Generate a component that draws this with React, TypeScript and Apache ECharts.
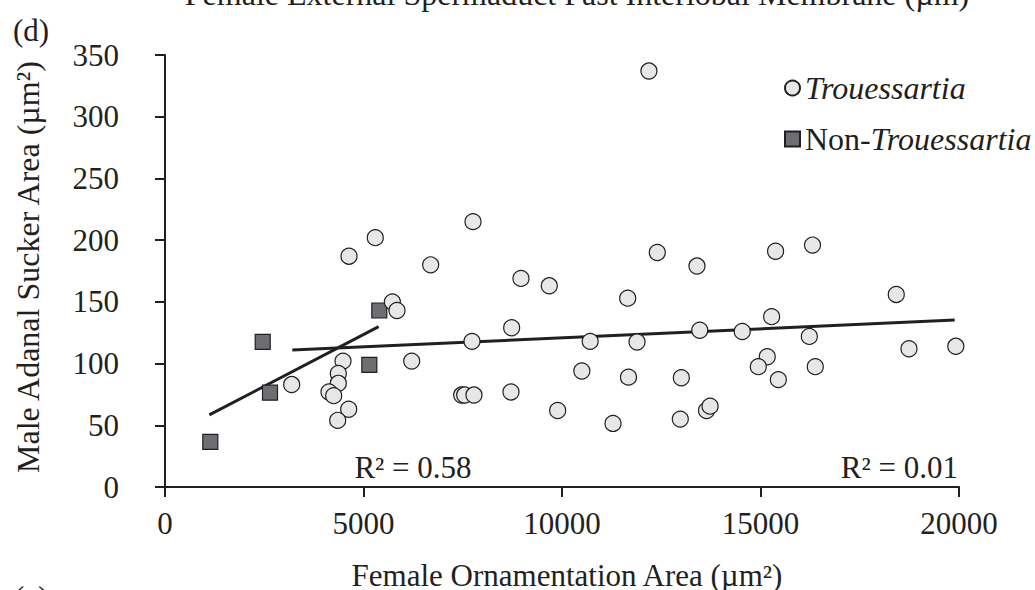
import React, { useEffect, useRef } from "react";
import * as echarts from "echarts";

const xTicks = [0, 5000, 10000, 15000, 20000];
const yTicks = [0, 50, 100, 150, 200, 250, 300, 350];

const trouX = [12190, 4635, 5297, 6692, 7758, 8967, 9680, 12400, 13400, 15380, 16310, 18420, 5727, 5844, 8732, 7733, 10710, 4484, 6214, 10500, 3191, 4366, 4366, 4131, 4249, 7473, 7549, 7783, 8715, 9891, 4627, 4350, 11655, 15280, 11890, 13470, 14540, 16230, 18740, 19920, 11675, 13006, 15170, 14945, 15450, 16380, 13640, 13730, 11285, 12980];
const trouY = [337, 187, 202, 180, 215, 169, 163, 190, 179, 191, 196, 156, 150, 143, 129, 118, 118, 102, 102, 94, 83, 92, 84, 77, 74, 74.5, 74.5, 74.5, 77, 62, 63, 54, 153, 138, 117.5, 127, 126, 122, 112, 114, 89, 88.5, 105.5, 97.5, 87, 97.5, 62, 65.5, 51.5, 55];

const nonX = [1141, 2461, 2645, 5147, 5398];
const nonY = [36.5, 117.5, 76.4, 99, 143];

const trendTrouX = [3207, 19891];
const trendTrouY = [111, 135.3];
const trendNonX = [1116, 5382];
const trendNonY = [58.4, 129.9];

const seriesNames = ["Trouessartia", "Non-Trouessartia"];
const r2Labels = ["R² = 0.58", "R² = 0.01"];
const FONT = "Liberation Serif";
const INK = "#231f20";

export default function App() {
  const ref = useRef<HTMLDivElement>(null);
  useEffect(() => {
    document.body.style.margin = "0";
    if (!ref.current) return;
    const chart = echarts.init(ref.current, undefined, { renderer: "svg" });
    const zip = (xs: number[], ys: number[]) => xs.map((x, i) => [x, ys[i]]);
    chart.setOption({
      animation: false,
      textStyle: { fontFamily: FONT },
      grid: { left: 165, right: 76, top: 55, bottom: 103, outerBoundsMode: "none", containLabel: false },
      xAxis: {
        type: "value",
        min: xTicks[0],
        max: xTicks[xTicks.length - 1],
        interval: 5000,
        name: "Female Ornamentation Area (µm²)",
        nameLocation: "middle",
        nameGap: 73,
        nameTextStyle: { fontFamily: FONT, fontSize: 31, color: INK, lineHeight: 31, padding: [0, 0, 0, 10] },
        axisLine: { lineStyle: { color: INK, width: 2 } },
        axisTick: { show: true, inside: false, length: 10, lineStyle: { color: INK, width: 2 } },
        axisLabel: { fontFamily: FONT, fontSize: 31, color: INK, margin: 21, lineHeight: 31, formatter: (v: number) => String(v) },
        splitLine: { show: false },
      },
      yAxis: {
        type: "value",
        min: yTicks[0],
        max: yTicks[yTicks.length - 1],
        interval: 50,
        axisLine: { show: true, lineStyle: { color: INK, width: 2 } },
        axisTick: { show: true, inside: false, length: 10, lineStyle: { color: INK, width: 2 } },
        axisLabel: { fontFamily: FONT, fontSize: 31, color: INK, margin: 46, formatter: (v: number) => String(v) },
        splitLine: { show: false },
      },
      legend: {
        orient: "vertical",
        left: 779,
        top: 67,
        itemWidth: 15,
        itemHeight: 15,
        itemGap: 19,
        data: seriesNames,
        formatter: (name: string) =>
          name === "Trouessartia" ? "{i|Trouessartia}" : "{n|Non-}{i|Trouessartia}",
        textStyle: {
          color: INK,
          fontFamily: FONT,
          fontSize: 32,
          rich: {
            i: { fontFamily: FONT, fontSize: 32, fontStyle: "italic", color: INK, lineHeight: 34 },
            n: { fontFamily: FONT, fontSize: 32, color: INK, lineHeight: 34 },
          },
        },
      },
      graphic: [
        {
          type: "text",
          x: 577,
          y: 10,
          style: {
            text: "Female External Spermaduct Past Interlobal Membrane (µm)",
            fontFamily: FONT,
            fontSize: 32,
            fill: INK,
            align: "center",
            verticalAlign: "bottom",
          },
        },
        {
          type: "text",
          x: 13,
          y: 30,
          style: { text: "(d)", fontFamily: FONT, fontSize: 31, fill: INK, align: "left", verticalAlign: "middle" },
        },
        {
          type: "text",
          x: 14,
          y: 582,
          style: { text: "(e)", fontFamily: FONT, fontSize: 31, fill: INK, align: "left", verticalAlign: "top" },
        },
        {
          type: "text",
          x: 28,
          y: 267,
          rotation: Math.PI / 2,
          style: {
            text: "Male Adanal Sucker Area (µm²)",
            fontFamily: FONT,
            fontSize: 32,
            fill: INK,
            align: "center",
            verticalAlign: "middle",
          },
        },
        {
          type: "text",
          x: 413,
          y: 467,
          style: { text: r2Labels[0], fontFamily: FONT, fontSize: 31, fill: INK, align: "center", verticalAlign: "middle" },
        },
        {
          type: "text",
          x: 958,
          y: 467,
          style: { text: r2Labels[1], fontFamily: FONT, fontSize: 31, fill: INK, align: "right", verticalAlign: "middle" },
        },
      ],
      series: [
        {
          name: "trendNon",
          type: "line",
          data: zip(trendNonX, trendNonY),
          showSymbol: false,
          lineStyle: { color: INK, width: 3 },
          z: 1,
          silent: true,
        },
        {
          name: "trendTrou",
          type: "line",
          data: zip(trendTrouX, trendTrouY),
          showSymbol: false,
          lineStyle: { color: INK, width: 3 },
          z: 1,
          silent: true,
        },
        {
          name: seriesNames[1],
          type: "scatter",
          symbol: "rect",
          symbolSize: 15,
          data: zip(nonX, nonY),
          itemStyle: { color: "#6d6e71", borderColor: INK, borderWidth: 1.2, opacity: 1 },
          z: 3,
        },
        {
          name: seriesNames[0],
          type: "scatter",
          symbol: "circle",
          symbolSize: 16,
          data: zip(trouX, trouY),
          itemStyle: { color: "#e6e7e8", borderColor: INK, borderWidth: 1.2, opacity: 1 },
          z: 4,
        },
      ],
    });
    return () => chart.dispose();
  }, []);
  return <div ref={ref} style={{ width: 1035, height: 590 }} />;
}
